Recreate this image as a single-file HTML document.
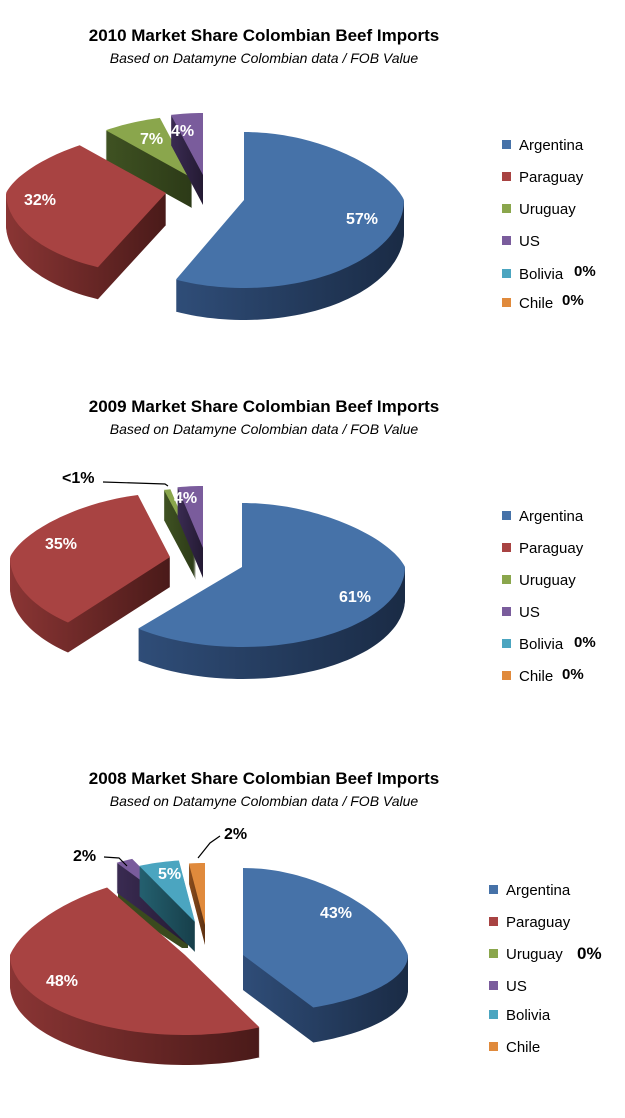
<!DOCTYPE html>
<html><head><meta charset="utf-8">
<style>
html,body{margin:0;padding:0;background:#fff;}
svg{display:block;}
.t{font-family:"Liberation Sans",sans-serif;font-weight:bold;font-size:17px;fill:#000;}
.s{font-family:"Liberation Sans",sans-serif;font-style:italic;font-size:14px;fill:#000;}
.l{font-family:"Liberation Sans",sans-serif;font-size:15px;fill:#000;}
.z{font-family:"Liberation Sans",sans-serif;font-weight:bold;font-size:15px;fill:#000;}
.d{font-family:"Liberation Sans",sans-serif;font-weight:bold;font-size:16px;fill:#fff;}
.k{font-family:"Liberation Sans",sans-serif;font-weight:bold;font-size:16px;fill:#000;}
</style></head>
<body>
<svg id="s" width="625" height="1118" viewBox="0 0 625 1118" xmlns="http://www.w3.org/2000/svg">
<defs>
<linearGradient id="gb" x1="0" x2="1" y1="0" y2="0"><stop offset="0" stop-color="#2f4d78"/><stop offset="1" stop-color="#1a2b45"/></linearGradient>
<linearGradient id="gr" x1="0" x2="1" y1="0" y2="0"><stop offset="0" stop-color="#8a3534"/><stop offset="1" stop-color="#4a1a19"/></linearGradient>
<linearGradient id="gg" x1="0" x2="1" y1="0" y2="0"><stop offset="0" stop-color="#3f5222"/><stop offset="1" stop-color="#2c3a17"/></linearGradient>
<linearGradient id="gp" x1="0" x2="1" y1="0" y2="0"><stop offset="0" stop-color="#3a2b52"/><stop offset="1" stop-color="#241a33"/></linearGradient>
<linearGradient id="gt" x1="0" x2="1" y1="0" y2="0"><stop offset="0" stop-color="#24606f"/><stop offset="1" stop-color="#173f4a"/></linearGradient>
<linearGradient id="go" x1="0" x2="1" y1="0" y2="0"><stop offset="0" stop-color="#8a4c1c"/><stop offset="1" stop-color="#5e3212"/></linearGradient>
</defs>
<g id="shapes"></g>

<!-- 2010 -->
<text class="t" x="264" y="41" text-anchor="middle">2010 Market Share Colombian Beef Imports</text>
<text class="s" x="264" y="63" text-anchor="middle">Based on Datamyne Colombian data / FOB Value</text>
<text class="d" x="346" y="224">57%</text>
<text class="d" x="24" y="205">32%</text>
<text class="d" x="140" y="144">7%</text>
<text class="d" x="171" y="136">4%</text>
<rect x="502" y="140" width="9" height="9" fill="#4672a8"/><text class="l" x="519" y="150">Argentina</text>
<rect x="502" y="172" width="9" height="9" fill="#a84342"/><text class="l" x="519" y="182">Paraguay</text>
<rect x="502" y="204" width="9" height="9" fill="#8aa64c"/><text class="l" x="519" y="214">Uruguay</text>
<rect x="502" y="236" width="9" height="9" fill="#7a5c9c"/><text class="l" x="519" y="246">US</text>
<rect x="502" y="269" width="9" height="9" fill="#4ba5c0"/><text class="l" x="519" y="279">Bolivia</text><text class="z" x="574" y="276">0%</text>
<rect x="502" y="298" width="9" height="9" fill="#e08a3c"/><text class="l" x="519" y="308">Chile</text><text class="z" x="562" y="305">0%</text>

<!-- 2009 -->
<text class="t" x="264" y="412" text-anchor="middle">2009 Market Share Colombian Beef Imports</text>
<text class="s" x="264" y="434" text-anchor="middle">Based on Datamyne Colombian data / FOB Value</text>
<text class="d" x="339" y="602">61%</text>
<text class="d" x="45" y="549">35%</text>
<text class="d" x="174" y="503">4%</text>
<text class="k" x="62" y="483">&lt;1%</text>
<polyline points="103,482 165,484 168,486" fill="none" stroke="#000" stroke-width="1.2"/>
<rect x="502" y="511" width="9" height="9" fill="#4672a8"/><text class="l" x="519" y="521">Argentina</text>
<rect x="502" y="543" width="9" height="9" fill="#a84342"/><text class="l" x="519" y="553">Paraguay</text>
<rect x="502" y="575" width="9" height="9" fill="#8aa64c"/><text class="l" x="519" y="585">Uruguay</text>
<rect x="502" y="607" width="9" height="9" fill="#7a5c9c"/><text class="l" x="519" y="617">US</text>
<rect x="502" y="639" width="9" height="9" fill="#4ba5c0"/><text class="l" x="519" y="649">Bolivia</text><text class="z" x="574" y="647">0%</text>
<rect x="502" y="671" width="9" height="9" fill="#e08a3c"/><text class="l" x="519" y="681">Chile</text><text class="z" x="562" y="679">0%</text>

<!-- 2008 -->
<text class="t" x="264" y="784" text-anchor="middle">2008 Market Share Colombian Beef Imports</text>
<text class="s" x="264" y="806" text-anchor="middle">Based on Datamyne Colombian data / FOB Value</text>
<text class="d" x="320" y="918">43%</text>
<text class="d" x="46" y="986">48%</text>
<text class="d" x="158" y="879">5%</text>
<text class="k" x="73" y="861">2%</text>
<polyline points="104,857 119,858 127,866" fill="none" stroke="#000" stroke-width="1.2"/>
<text class="k" x="224" y="839">2%</text>
<polyline points="220,836 210,843 198,858" fill="none" stroke="#000" stroke-width="1.2"/>
<rect x="489" y="885" width="9" height="9" fill="#4672a8"/><text class="l" x="506" y="895">Argentina</text>
<rect x="489" y="917" width="9" height="9" fill="#a84342"/><text class="l" x="506" y="927">Paraguay</text>
<rect x="489" y="949" width="9" height="9" fill="#8aa64c"/><text class="l" x="506" y="959">Uruguay</text><text class="z" x="577" y="959" style="font-size:17px">0%</text>
<rect x="489" y="981" width="9" height="9" fill="#7a5c9c"/><text class="l" x="506" y="991">US</text>
<rect x="489" y="1010" width="9" height="9" fill="#4ba5c0"/><text class="l" x="506" y="1020">Bolivia</text>
<rect x="489" y="1042" width="9" height="9" fill="#e08a3c"/><text class="l" x="506" y="1052">Chile</text>
</svg>
<script>
(function(){
var g=document.getElementById('shapes'),NS='http://www.w3.org/2000/svg';
var C={b:['#4672a8','url(#gb)'],r:['#a84342','url(#gr)'],g:['#8aa64c','url(#gg)'],p:['#7a5c9c','url(#gp)'],t:['#4ba5c0','url(#gt)'],o:['#e08a3c','url(#go)']};
function pt(ax,ay,th,rx,ryb,ryf){var a=th*Math.PI/180,s=Math.sin(a),c=Math.cos(a);
 var x=ax+rx*s*(1-0.2*Math.max(c,0));var y=ay-c*(c>0?ryb:ryf);return [x,y];}
function path(ax,ay,a1,a2,rx,ryb,ryf){var d='M'+ax+','+ay;var n=Math.max(2,Math.ceil((a2-a1)/2));
 for(var i=0;i<=n;i++){var p=pt(ax,ay,a1+(a2-a1)*i/n,rx,ryb,ryf);d+=' L'+p[0].toFixed(1)+','+p[1].toFixed(1);}return d+' Z';}
function slice(col,ax,ay,a1,a2,rx,ryb,ryf,dep){var d=path(ax,ay,a1,a2,rx,ryb,ryf);
 for(var k=dep;k>=1;k--){var e=document.createElementNS(NS,'path');e.setAttribute('d',d);e.setAttribute('fill',C[col][1]);e.setAttribute('transform','translate(0,'+k+')');g.appendChild(e);}
 var t=document.createElementNS(NS,'path');t.setAttribute('d',d);t.setAttribute('fill',C[col][0]);g.appendChild(t);}
function poly(pts,fill){var e=document.createElementNS(NS,'polygon');e.setAttribute('points',pts);e.setAttribute('fill',fill);g.appendChild(e);}
// 2010
slice('g',192,178,320.4,345.6,160,62,82,30);
slice('p',203,175,345.6,360,160,62,82,30);
slice('r',166,193,205.2,320.4,160,62,82,32);
slice('b',244,200,0,205.2,160,68,88,32);
// 2009
slice('g',196,550,345.6,348.5,160,62,82,30);
slice('p',203,548,348.5,360,160,62,82,30);
slice('r',170,557,219.6,345.6,160,64,85,30);
slice('b',242,567,0,219.6,163,64,80,32);
// 2008
poly('118,868 125,866 188,918 188,948 182,948 118,906','#3a4a1e');
slice('p',188,915,327.6,334.8,160,62,82,30);
slice('t',195,922,334.8,352.8,160,62,82,30);
slice('o',205,925,352.8,360,160,62,82,20);
slice('r',185,955,154.8,327.6,175,80,80,30);
slice('b',243,955,0,154.8,165,87,58,35);
})();
</script>
</body></html>
